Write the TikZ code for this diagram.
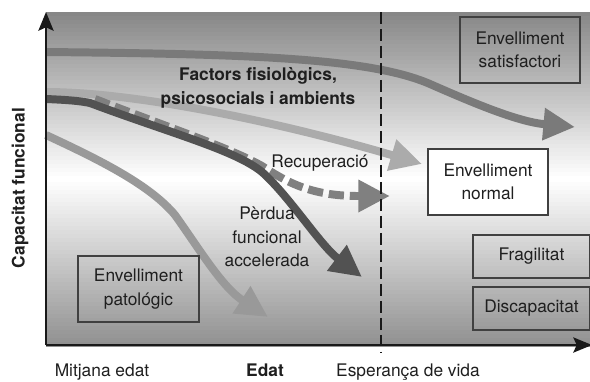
\documentclass[tikz,border=0pt]{standalone}
\usepackage{fontspec}
\setmainfont{TeX Gyre Heros}
\usetikzlibrary{arrows.meta}

\tikzset{
  estat/.style={draw=black!75, line width=0.9pt, align=center, inner sep=0pt, text=black!88},
  etiq/.style={align=center, text=black!88},
  fletxa/.style={line width=6.8pt, -{Triangle[length=27pt,width=26pt]}},
  eix/.style={line width=1.8pt, black!90},
}

\begin{document}
\begin{tikzpicture}[x=0.03cm, y=-0.03cm, font=\fontsize{14.8}{20}\selectfont]
  \useasboundingbox (0,0) rectangle (590,381);
  % fons: gris a dalt i a baix, blanc al mig
  \foreach \i in {0,...,41} {
    \pgfmathsetmacro{\tona}{47*(1-\i/41)}
    \pgfmathsetmacro{\tonb}{43*(\i/41)}
    \fill[black!\tona] (46,12+4*\i) rectangle (590,16.5+4*\i);
    \fill[black!\tonb] (46,178+4*\i) rectangle (590,182.5+4*\i);
  }

  \coordinate (origen) at (46,345);
  \coordinate (dalt) at (46,12);
  \coordinate (dreta) at (592,345);
  \coordinate (recfi) at (358,196);

  % corbes
  \draw[fletxa, black!52]
    (46,52) .. controls (250,54) and (370,58) .. (430,84)
            .. controls (480,106) and (520,122) .. (575,127);
  \draw[fletxa, black!33]
    (46,92) .. controls (140,92) and (290,125) .. (422,164);
  \draw[line width=6.8pt, black!50, dash pattern=on 13pt off 5pt]
    (95,99) .. controls (170,128) and (230,148) .. (262,166)
            .. controls (285,181) and (310,196) .. (recfi);
  \draw[fletxa, black!50] (352,196) -- (390,196);
  \draw[fletxa, black!68]
    (46,99) .. controls (70,100) and (80,101) .. (90,103)
            .. controls (170,133) and (235,150) .. (262,172)
            .. controls (290,197) and (320,245) .. (362,277);
  \draw[fletxa, black!40]
    (46,135) .. controls (100,160) and (150,185) .. (175,215)
             .. controls (200,250) and (222,287) .. (268,317);

  % esperanca de vida
  \draw[line width=2pt, black!90, dash pattern=on 10pt off 4.5pt] (381,12) -- (381,352);

  % eixos
  \draw[eix, -{Stealth[length=16pt,width=13pt,inset=3pt]}] (origen) -- (dalt);
  \draw[eix, -{Stealth[length=16pt,width=13pt,inset=3pt]}] (origen) -- (dreta);

  % estats
  \node[estat, minimum width=3.6cm, minimum height=1.98cm] (satisf) at (520,50) {Envelliment\\satisfactori};
  \node[estat, fill=white, minimum width=3.6cm, minimum height=1.98cm] (normal) at (488,182) {Envelliment\\normal};
  \node[estat, minimum width=3.51cm, minimum height=1.29cm] (fragil) at (531.5,256.5) {Fragilitat};
  \node[estat, minimum width=3.51cm, minimum height=1.29cm] (discap) at (531.5,308.5) {Discapacitat};
  \node[estat, minimum width=3.63cm, minimum height=1.98cm] (patol) at (138.5,289) {Envelliment\\patológic};

  % textos
  \node[etiq, font=\fontsize{14.8}{21}\selectfont\bfseries] (factors) at (258,88) {Factors fisiològics,\\psicosocials i ambients};
  \node[etiq] (recup) at (320,163) {Recuperació};
  \node[etiq] (perdua) at (267,237) {Pèrdua\\funcional\\accelerada};
  \node[etiq, rotate=90, font=\fontsize{14.8}{20}\selectfont\bfseries] (capac) at (20,188) {Capacitat funcional};
  \node[etiq, anchor=base] (mitjana) at (102,376) {Mitjana edat};
  \node[etiq, anchor=base, font=\fontsize{14.8}{20}\selectfont\bfseries] (edat) at (265,376) {Edat};
  \node[etiq, anchor=base] (esper) at (408,376) {Esperança de vida};
\end{tikzpicture}
\end{document}
